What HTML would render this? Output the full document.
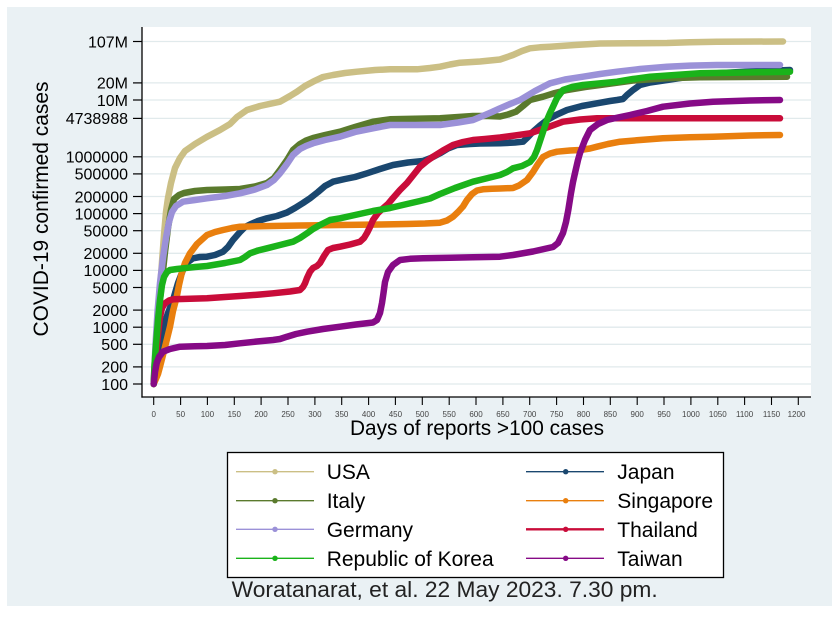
<!DOCTYPE html>
<html><head><meta charset="utf-8"><style>
html,body{margin:0;padding:0;background:#fff;}
svg{display:block;}
text{font-family:"Liberation Sans",Arial,sans-serif;}
</style></head><body>
<svg width="839" height="619" viewBox="0 0 839 619" xmlns="http://www.w3.org/2000/svg">
<rect x="0" y="0" width="839" height="619" fill="#ffffff"/>
<rect x="7" y="7" width="825" height="599" fill="#eaf1f4"/>
<rect x="142" y="27" width="669" height="370" fill="#ffffff"/>
<!-- grid -->
<g stroke="#e1eaec" stroke-width="1.3">
<line x1="143" x2="811" y1="41.5" y2="41.5"/>
<line x1="143" x2="811" y1="82.9" y2="82.9"/>
<line x1="143" x2="811" y1="100" y2="100"/>
<line x1="143" x2="811" y1="118.4" y2="118.4"/>
<line x1="143" x2="811" y1="156.8" y2="156.8"/>
<line x1="143" x2="811" y1="173.9" y2="173.9"/>
<line x1="143" x2="811" y1="196.5" y2="196.5"/>
<line x1="143" x2="811" y1="213.6" y2="213.6"/>
<line x1="143" x2="811" y1="230.7" y2="230.7"/>
<line x1="143" x2="811" y1="253.3" y2="253.3"/>
<line x1="143" x2="811" y1="270.4" y2="270.4"/>
<line x1="143" x2="811" y1="287.5" y2="287.5"/>
<line x1="143" x2="811" y1="310.1" y2="310.1"/>
<line x1="143" x2="811" y1="327.2" y2="327.2"/>
<line x1="143" x2="811" y1="344.3" y2="344.3"/>
<line x1="143" x2="811" y1="366.9" y2="366.9"/>
<line x1="143" x2="811" y1="384" y2="384"/>
</g>
<!-- y ticks -->
<g stroke="#000" stroke-width="1.2">
<line x1="133" x2="142" y1="41.5" y2="41.5"/>
<line x1="133" x2="142" y1="82.9" y2="82.9"/>
<line x1="133" x2="142" y1="100" y2="100"/>
<line x1="133" x2="142" y1="118.4" y2="118.4"/>
<line x1="133" x2="142" y1="156.8" y2="156.8"/>
<line x1="133" x2="142" y1="173.9" y2="173.9"/>
<line x1="133" x2="142" y1="196.5" y2="196.5"/>
<line x1="133" x2="142" y1="213.6" y2="213.6"/>
<line x1="133" x2="142" y1="230.7" y2="230.7"/>
<line x1="133" x2="142" y1="253.3" y2="253.3"/>
<line x1="133" x2="142" y1="270.4" y2="270.4"/>
<line x1="133" x2="142" y1="287.5" y2="287.5"/>
<line x1="133" x2="142" y1="310.1" y2="310.1"/>
<line x1="133" x2="142" y1="327.2" y2="327.2"/>
<line x1="133" x2="142" y1="344.3" y2="344.3"/>
<line x1="133" x2="142" y1="366.9" y2="366.9"/>
<line x1="133" x2="142" y1="384" y2="384"/>
</g>
<g font-size="16" fill="#000" text-anchor="end">
<text x="128" y="47.3">107M</text>
<text x="128" y="88.7">20M</text>
<text x="128" y="105.8">10M</text>
<text x="128" y="124.2">4738988</text>
<text x="128" y="162.6">1000000</text>
<text x="128" y="179.7">500000</text>
<text x="128" y="202.3">200000</text>
<text x="128" y="219.4">100000</text>
<text x="128" y="236.5">50000</text>
<text x="128" y="259.1">20000</text>
<text x="128" y="276.2">10000</text>
<text x="128" y="293.3">5000</text>
<text x="128" y="315.9">2000</text>
<text x="128" y="333">1000</text>
<text x="128" y="350.1">500</text>
<text x="128" y="372.7">200</text>
<text x="128" y="389.8">100</text>
</g>
<!-- x ticks -->
<g stroke="#000" stroke-width="1.1">
<line x1="153.7" x2="153.7" y1="397" y2="405"/><line x1="180.6" x2="180.6" y1="397" y2="405"/><line x1="207.4" x2="207.4" y1="397" y2="405"/><line x1="234.3" x2="234.3" y1="397" y2="405"/><line x1="261.1" x2="261.1" y1="397" y2="405"/><line x1="288" x2="288" y1="397" y2="405"/><line x1="314.9" x2="314.9" y1="397" y2="405"/><line x1="341.7" x2="341.7" y1="397" y2="405"/><line x1="368.6" x2="368.6" y1="397" y2="405"/><line x1="395.4" x2="395.4" y1="397" y2="405"/><line x1="422.3" x2="422.3" y1="397" y2="405"/><line x1="449.2" x2="449.2" y1="397" y2="405"/><line x1="476" x2="476" y1="397" y2="405"/><line x1="502.9" x2="502.9" y1="397" y2="405"/><line x1="529.7" x2="529.7" y1="397" y2="405"/><line x1="556.6" x2="556.6" y1="397" y2="405"/><line x1="583.5" x2="583.5" y1="397" y2="405"/><line x1="610.3" x2="610.3" y1="397" y2="405"/><line x1="637.2" x2="637.2" y1="397" y2="405"/><line x1="664" x2="664" y1="397" y2="405"/><line x1="690.9" x2="690.9" y1="397" y2="405"/><line x1="717.8" x2="717.8" y1="397" y2="405"/><line x1="744.6" x2="744.6" y1="397" y2="405"/><line x1="771.5" x2="771.5" y1="397" y2="405"/><line x1="798.3" x2="798.3" y1="397" y2="405"/>
</g>
<g font-size="8" fill="#444" text-anchor="middle">
<text x="153.7" y="417">0</text><text x="180.6" y="417">50</text><text x="207.4" y="417">100</text><text x="234.3" y="417">150</text><text x="261.1" y="417">200</text><text x="288" y="417">250</text><text x="314.9" y="417">300</text><text x="341.7" y="417">350</text><text x="368.6" y="417">400</text><text x="395.4" y="417">450</text><text x="422.3" y="417">500</text><text x="449.2" y="417">550</text><text x="476" y="417">600</text><text x="502.9" y="417">650</text><text x="529.7" y="417">700</text><text x="556.6" y="417">750</text><text x="583.5" y="417">800</text><text x="610.3" y="417">850</text><text x="637.2" y="417">900</text><text x="664" y="417">950</text><text x="690.9" y="417">1000</text><text x="717.8" y="417">1050</text><text x="744.6" y="417">1100</text><text x="771.5" y="417">1150</text><text x="796.5" y="417">1200</text>
</g>
<!-- series -->
<g fill="none" stroke-width="6.5" stroke-linejoin="round" stroke-linecap="round">
<polyline stroke="#cbbf85" points="153.7,384 156,350 158,318 160,290 162,262 164,235 166,212 168,198 171,183 175,168 180,158 185,151 195,144 206.7,137 220,130 230,124 237,117 247,110 260,106 280,101.7 290,96 297,91.7 305,86 313,81.7 323,77 333,75 345,73 357,71.7 375,70 390,69.3 417,69.3 430,68 440,66.7 450,64.5 460,62.7 480,61.5 500,59.5 513,55 522,51 530,48.3 540,47.3 550,46.7 575,45 600,43.5 630,43.3 667,43 690,42.3 717,41.7 783,41.5"/>
<polyline stroke="#1a476f" points="153.7,384 156,365 160,343 164,325 168,313 173,300 178,283 183,270 188,262 193,258.3 200,257 207,256.7 215,255 223,251.7 228,247 233,240 240,232 245,227 250,224.5 258,221 267,218.3 277,216 287,212.5 295,208 303,203 310,198.3 318,192 325,186 333,181.7 345,179 355,177 367,173.3 380,169 393,165 408,162.5 423,161 432,157.5 440,153.3 448,148.5 457,145 470,144 480,143.5 500,143.3 515,142.5 523,141.7 528,137 533,131.7 540,125.5 547,120 556,115 567,110 582,106 597,103.3 610,101 617,100 623,99 627,95 633,90 640,85 650,82.5 667,80 690,76.5 717,73.3 750,71.5 790,70"/>
<polyline stroke="#5a7a2d" points="153.7,384 156,345 159,310 162,280 165,252 168,228 171,210 174,199 179,195 184,193 195,191 207,190 225,189.5 240,189 255,186.5 267,183 274,178 280,170 287,160 293,150 300,144 306,140.5 313,138 325,135 340,131.7 355,127 373,121.7 390,119.3 415,118.8 440,118.3 473,116 488,116 500,116.5 508,114.5 516,111.7 523,106 530,100 543,96.7 555,93 567,90 585,87 600,85 633,80.5 667,78.3 700,77.3 787,76.7"/>
<polyline stroke="#e97f0e" points="153.7,384 155,381 158,374 160,366.7 163,355 166,343 170,326.7 173,311 176.7,297 179,285 181.7,273.3 185,263 190,253.3 197,244 207,235 215,232 223,230 232,228 240,226.7 260,226.3 273,226 300,225.5 340,225 380,224.5 407,224 425,223.5 440,222.7 447,220.5 453,216.7 458,212 463,206.5 467,200 472,194 477,190.5 483,189.3 492,188.7 500,188.5 513,188 519,185.5 527,180 533,172 538,164 543,157 550,153.5 557,151.7 570,150.5 580,150 590,148.5 597,146.7 608,144 620,141.7 640,140 663,138.3 690,137.3 713,136.7 750,135.5 780,135"/>
<polyline stroke="#9b91d8" points="153.7,384 155.5,345 157.5,312 160,283 163,258 166,238 169,222 172,212 176,206 183,201.7 195,200 207,198.3 225,196 240,193.3 255,189.5 267,185 274,180 280,173.3 287,164 293,155 300,149 306,146 313,143.3 325,140 340,136.7 355,132 373,128.3 390,125 415,125 440,125 458,122.5 473,120 485,115 492,112 500,108.3 510,104 520,100 535,91 550,83.3 565,79.5 583,76.7 600,74 617,71.7 640,69 667,66.7 690,65.6 717,65 780,65"/>
<polyline stroke="#c90c3a" points="153.7,384 155,368 156.7,347 158.5,330 160,317 162,308 165,303.3 169,300.5 173.3,299.3 190,298.7 207,298.3 225,297 240,296 260,294.5 273,293.3 290,291.5 300,290 303,287 305,283.3 307,278 310,271.7 313,268 317,266 320,263 324,256 328,250 333,248 340,246.7 350,244.5 360,241.7 364,238 367,233 370,227 373,220 378,213 383,208.3 388,204 393,198 400,190 407,183 413,175.5 420,166.7 427,161 433,156.7 443,150.5 453,145 463,142 473,140 485,139 500,137.5 515,135.5 530,133.3 547,127.5 563,121.7 580,119.5 597,118.3 640,118.3 680,118.3 780,118.3"/>
<polyline stroke="#1ab31a" points="153.7,384 154.5,365 156,345 158,320 160,300 162,285 164,277 167,272 170,270 177,269 183,268.3 195,267 207,266 225,263 240,260 245,257 250,253.3 258,250.5 267,248.3 280,245 293,241.7 300,238 307,233.3 313,229 320,225 330,220 340,218.3 355,215 373,211 390,208 407,204 420,201 430,198.5 440,194 455,188 473,181.7 488,178 500,175 507,172 513,168.3 522,166 530,162 534,157 537,150 540,141 543.3,131 547,120 550,113 553,106.7 557,98 563,90 572,87 583,85 600,83.3 617,81.7 633,79 650,76.7 675,75 700,73.3 745,72.5 790,71.7"/>
<polyline stroke="#860a86" points="153.7,384 155,372 156.7,363 159,357 163,351.7 170,349 180,346.7 195,346.3 207,346 225,345 240,343.3 257,341.5 273,340 280,339 287,336.7 296,334 307,331.7 323,329 340,326.7 356,324.5 373,322.5 377,320 380,313 382,303 383.5,293 385,282 388,272 393,265 400,260 410,258.8 423,258.3 450,257.7 473,257.3 500,256.7 513,255 533,251.5 553,247 558,243 563,233 566,222 568.3,210 571,193 573,182 575,173 578,160 580,153 585,140 590,130 598,124 607,120 618,117.5 630,115 647,111 663,106.7 690,103.5 713,101.7 750,100.5 780,100"/>
</g>
<!-- axes -->
<line x1="142" y1="27" x2="142" y2="397.6" stroke="#000" stroke-width="1.3"/>
<line x1="141.4" y1="397" x2="811" y2="397" stroke="#000" stroke-width="1.3"/>
<!-- axis titles -->
<text x="477" y="435" font-size="21" text-anchor="middle" textLength="254" lengthAdjust="spacingAndGlyphs" fill="#000">Days of reports &gt;100 cases</text>
<text transform="translate(48,209) rotate(-90)" font-size="21" text-anchor="middle" textLength="255" lengthAdjust="spacingAndGlyphs" fill="#000">COVID-19 confirmed cases</text>
<!-- legend -->
<rect x="227.5" y="452.5" width="496" height="125" fill="#ffffff" stroke="#000" stroke-width="1.3"/>
<g stroke-width="1.4">
<line x1="236" x2="314" y1="471.7" y2="471.7" stroke="#cbbf85"/>
<line x1="236" x2="314" y1="500.7" y2="500.7" stroke="#5a7a2d"/>
<line x1="236" x2="314" y1="529.3" y2="529.3" stroke="#9b91d8"/>
<line x1="236" x2="314" y1="558.3" y2="558.3" stroke="#1ab31a"/>
<line x1="526" x2="604" y1="471.7" y2="471.7" stroke="#1a476f"/>
<line x1="526" x2="604" y1="500.7" y2="500.7" stroke="#e97f0e"/>
<line x1="526" x2="604" y1="529.3" y2="529.3" stroke="#c90c3a" stroke-width="2.4"/>
<line x1="526" x2="604" y1="558.3" y2="558.3" stroke="#860a86"/>
</g>
<circle cx="275" cy="471.7" r="2.7" fill="#cbbf85"/>
<circle cx="275" cy="500.7" r="2.7" fill="#5a7a2d"/>
<circle cx="275" cy="529.3" r="2.7" fill="#9b91d8"/>
<circle cx="275" cy="558.3" r="2.7" fill="#1ab31a"/>
<circle cx="565.7" cy="471.7" r="2.7" fill="#1a476f"/>
<circle cx="565.7" cy="500.7" r="2.7" fill="#e97f0e"/>
<circle cx="565.7" cy="529.3" r="2.7" fill="#c90c3a"/>
<circle cx="565.7" cy="558.3" r="2.7" fill="#860a86"/>
<g font-size="21" fill="#000">
<text x="326.7" y="479">USA</text>
<text x="326.7" y="508">Italy</text>
<text x="326.7" y="536.8">Germany</text>
<text x="326.7" y="565.8">Republic of Korea</text>
<text x="617.3" y="479">Japan</text>
<text x="617.3" y="508">Singapore</text>
<text x="617.3" y="536.8">Thailand</text>
<text x="617.3" y="565.8">Taiwan</text>
</g>
<!-- caption -->
<text x="231.7" y="597" font-size="22" textLength="426" lengthAdjust="spacingAndGlyphs" fill="#222">Woratanarat, et al. 22 May 2023. 7.30 pm.</text>
</svg>
</body></html>
